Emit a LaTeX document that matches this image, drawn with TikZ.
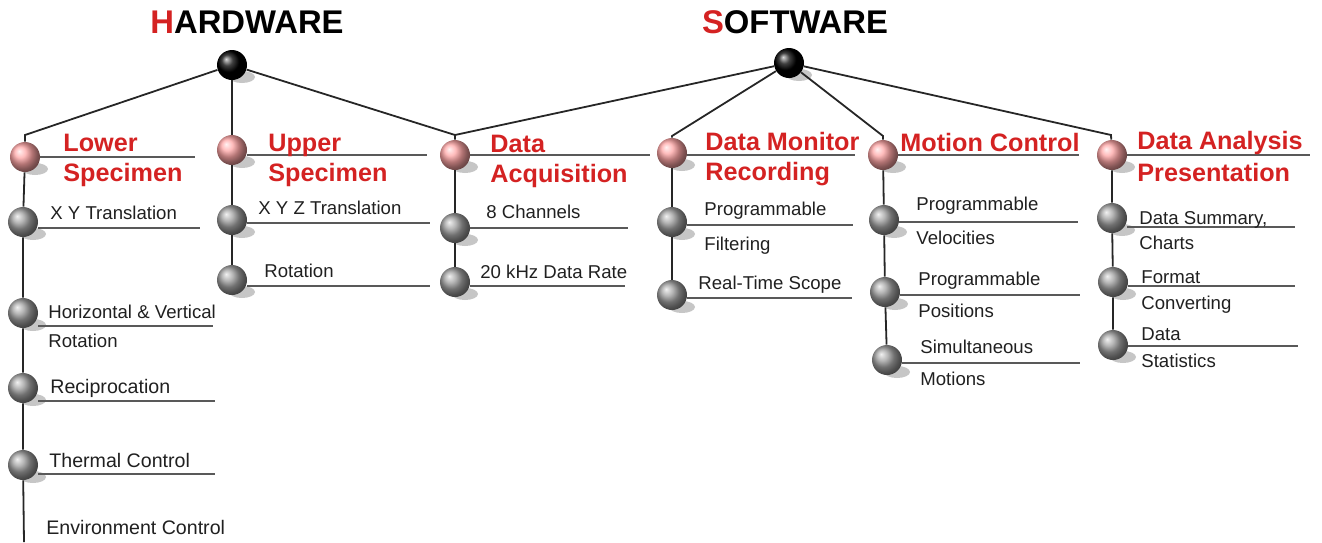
\documentclass[tikz,border=0pt]{standalone}
\usepackage{fontspec}
\setmainfont{Liberation Sans}
\usetikzlibrary{backgrounds}
\definecolor{hred}{RGB}{212,34,34}
\definecolor{ltext}{RGB}{32,32,32}

\begin{document}
\begin{tikzpicture}[x=0.5pt, y=-0.5pt,
        branch/.style={draw=black!85, line width=0.9pt},
        uline/.style={draw=black!65, line width=0.8pt},
        rootball/.style={circle, minimum size=15pt, inner sep=0pt, ball color=black},
        catball/.style={circle, minimum size=15pt, inner sep=0pt, ball color=red!35},
        itemball/.style={circle, minimum size=15pt, inner sep=0pt, ball color=gray!75},
        heading/.style={inner sep=0pt, font=\fontsize{16.4}{18}\selectfont\bfseries},
        cat/.style={anchor=base west, inner sep=0pt, align=left, text=hred, font=\fontsize{12.6}{15}\selectfont\bfseries},
        item/.style={anchor=base west, inner sep=0pt, align=left, text=ltext, font=\fontsize{9.3}{11}\selectfont},
        itembig/.style={item, font=\fontsize{9.8}{11.5}\selectfont}]
        \useasboundingbox (0,0) rectangle (1322,542);

        \node[heading] (hwtitle) at (247,22) {\textcolor{hred}{H}ARDWARE};
        \node[heading] (swtitle) at (795,22) {\textcolor{hred}{S}OFTWARE};

        \node[rootball] (hw) at (232,65) {};
        \node[rootball] (sw) at (789,63) {};

        \node[catball] (lower) at (25,157) {};
        \node[catball] (upper) at (232,150) {};
        \node[catball] (acq) at (455,155) {};
        \node[catball] (mon) at (672,153) {};
        \node[catball] (mot) at (883,155) {};
        \node[catball] (ana) at (1112,155) {};

        \node[itemball] (xy) at (23,222) {};
        \node[itemball] (hv) at (23,313) {};
        \node[itemball] (rec) at (23,388) {};
        \node[itemball] (therm) at (23,465) {};
        \node[itemball] (xyz) at (232,220) {};
        \node[itemball] (rot) at (232,280) {};
        \node[itemball] (ch) at (455,228) {};
        \node[itemball] (rate) at (455,282) {};
        \node[itemball] (filt) at (672,222) {};
        \node[itemball] (scope) at (672,295) {};
        \node[itemball] (vel) at (884,220) {};
        \node[itemball] (pos) at (885,292) {};
        \node[itemball] (sim) at (887,360) {};
        \node[itemball] (summ) at (1112,218) {};
        \node[itemball] (conv) at (1113,282) {};
        \node[itemball] (stat) at (1113,345) {};

        \coordinate (lowtop) at (25,135);
        \coordinate (acqtop) at (455,135);
        \coordinate (montop) at (672,136);
        \coordinate (mottop) at (883,136);
        \coordinate (anatop) at (1111,135);
        \coordinate (lowend) at (24,542);

        \draw[branch] (hw) -- (lowtop) -- (lower);
        \draw[branch] (hw) -- (upper);
        \draw[branch] (hw) -- (acqtop) -- (acq);
        \draw[branch] (sw) -- (acqtop);
        \draw[branch] (sw) -- (montop) -- (mon);
        \draw[branch] (sw) -- (mottop) -- (mot);
        \draw[branch] (sw) -- (anatop) -- (ana);

        \draw[branch] (lower) -- (xy) -- (hv) -- (rec) -- (therm) -- (lowend);
        \draw[branch] (upper) -- (xyz) -- (rot);
        \draw[branch] (acq) -- (ch) -- (rate);
        \draw[branch] (mon) -- (filt) -- (scope);
        \draw[branch] (mot) -- (vel) -- (pos) -- (sim);
        \draw[branch] (ana) -- (summ) -- (conv) -- (stat);

        \foreach \b/\dy/\xe in {lower/0/195, upper/5/427, acq/0/650, mon/2/855, mot/0/1079, ana/0/1310,
                xy/6/200, hv/13/213, rec/13/215, therm/9/215, xyz/3/430, rot/6/430,
                ch/0/628, rate/4/625, filt/3/853, scope/3/852, vel/2/1078, pos/3/1080, sim/3/1080,
                summ/9/1295, conv/4/1295, stat/1/1298}
            \draw[uline] ([yshift=-\dy*0.5pt]\b.east) coordinate (u) -- (u -| \xe,0);

        \begin{scope}[on background layer]
            \foreach \b in {hw, sw, lower, upper, acq, mon, mot, ana, xy, hv, rec, therm, xyz, rot,
                    ch, rate, filt, scope, vel, pos, sim, summ, conv, stat}
                \fill[gray!45] ([xshift=5pt, yshift=-6pt]\b.center) ellipse [x radius=6.5pt, y radius=3pt];
        \end{scope}

        \node[cat] (lowerlbl) at (63,181) {Lower\\Specimen};
        \node[cat] (upperlbl) at (268,181) {Upper\\Specimen};
        \node[cat] (acqlbl) at (490,182) {Data\\Acquisition};
        \node[cat] (monlbl) at (705,180) {Data Monitor\\Recording};
        \node[cat] (motlbl) at (900,151) {Motion Control};
        \node[cat] (analbl) at (1137,181) {Data Analysis\\[1pt]Presentation};

        \node[item] (xylbl) at (50,219) {X Y Translation};
        \node[item] (hvlbl) at (48,347) {Horizontal \& Vertical\\[3.5pt]Rotation};
        \node[itembig] (reclbl) at (50,393) {Reciprocation};
        \node[itembig] (thermlbl) at (49,467) {Thermal Control};
        \node[itembig] (envlbl) at (46,534) {Environment Control};
        \node[item] (xyzlbl) at (258,214) {X Y Z Translation};
        \node[item] (rotlbl) at (264,277) {Rotation};
        \node[item] (chlbl) at (486,218) {8 Channels};
        \node[item] (ratelbl) at (480,278) {20 kHz Data Rate};
        \node[item] (filtlbl) at (704,250) {Programmable\\[6.5pt]Filtering};
        \node[item] (scopelbl) at (698,289) {Real-Time Scope};
        \node[item] (vellbl) at (916,244) {Programmable\\[6pt]Velocities};
        \node[item] (poslbl) at (918,317) {Programmable\\[5pt]Positions};
        \node[item] (simlbl) at (920,385) {Simultaneous\\[5pt]Motions};
        \node[item] (summlbl) at (1139,249) {Data Summary,\\[1.5pt]Charts};
        \node[item] (convlbl) at (1141,309) {Format\\[2pt]Converting};
        \node[item] (statlbl) at (1141,367) {Data\\[2.5pt]Statistics};
\end{tikzpicture}
\end{document}
